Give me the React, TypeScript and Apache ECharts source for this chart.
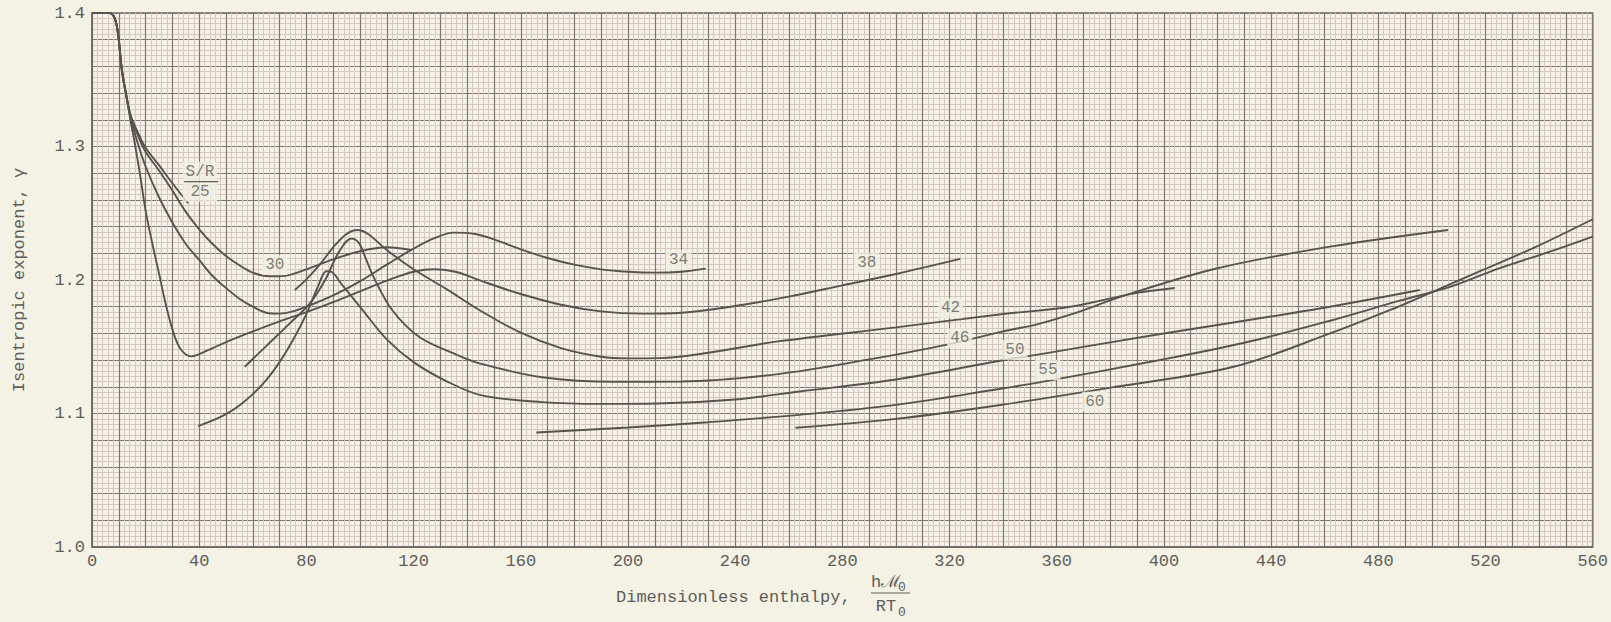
import React, { useEffect, useRef } from 'react';
import * as echarts from 'echarts';

// ---- data (x = dimensionless enthalpy, y = isentropic exponent) ----
const curveNames = ['25', '30', '34', '38', '42', '46', '50', '55', '60'];

const s25 = [[0, 1.4], [6.5, 1.4], [8.5, 1.396], [9.8, 1.383], [11.1, 1.358], [12.9, 1.337], [14.5, 1.323], [17, 1.311], [20, 1.299], [25, 1.286], [30, 1.2725], [35.9, 1.2575]];
const s30 = [[0, 1.4], [6.5, 1.4], [8.5, 1.396], [9.8, 1.383], [11.1, 1.358], [12.9, 1.337], [14.5, 1.322], [17, 1.309], [20, 1.296], [25, 1.282], [30, 1.267], [35, 1.251], [40, 1.238], [45, 1.227], [50, 1.218], [55, 1.211], [60, 1.2055], [65, 1.203], [70, 1.2028], [75, 1.2045], [80, 1.208], [90, 1.2155], [100, 1.2215], [110, 1.2245], [119, 1.2225]];
const s34 = [[0, 1.4], [6.5, 1.4], [8.5, 1.396], [9.8, 1.383], [11.1, 1.358], [12.9, 1.337], [14.5, 1.321], [17, 1.303], [20, 1.285], [25, 1.262], [30, 1.243], [35, 1.227], [40, 1.215], [45, 1.203], [50, 1.194], [55, 1.186], [60, 1.18], [65, 1.1755], [70, 1.1748], [75, 1.1765], [80, 1.18], [90, 1.1885], [100, 1.199], [110, 1.2115], [120, 1.2235], [128, 1.2315], [135, 1.2355], [143, 1.2345], [150, 1.2305], [160, 1.223], [170, 1.2165], [180, 1.2115], [190, 1.208], [200, 1.2062], [210, 1.2055], [220, 1.2062], [229, 1.2085]];
const s38 = [[0, 1.4], [6.5, 1.4], [8.5, 1.396], [9.8, 1.383], [11.1, 1.358], [12.9, 1.337], [14.5, 1.318], [16, 1.302], [18, 1.278], [20, 1.252], [22, 1.232], [25, 1.205], [27.5, 1.182], [30, 1.163], [32, 1.152], [34, 1.146], [37, 1.1428], [40, 1.1445], [45, 1.149], [50, 1.1535], [60, 1.1615], [70, 1.169], [80, 1.176], [90, 1.1835], [100, 1.1915], [110, 1.1995], [120, 1.2062], [128, 1.208], [136, 1.206], [145, 1.1995], [160, 1.1895], [175, 1.1815], [190, 1.1765], [205, 1.1748], [220, 1.1755], [240, 1.1805], [260, 1.1875], [280, 1.196], [300, 1.2045], [324, 1.2158]];
const s42 = [[75.7, 1.1925], [80, 1.2005], [85, 1.2115], [90, 1.2245], [95, 1.2345], [99, 1.2375], [103, 1.2345], [110, 1.2225], [120, 1.208], [132, 1.1935], [145, 1.177], [160, 1.1605], [175, 1.149], [190, 1.1425], [200, 1.1413], [212, 1.1415], [230, 1.1455], [256, 1.154], [300, 1.1645], [340, 1.1745], [365, 1.18], [389, 1.19], [404, 1.194]];
const s46 = [[57, 1.135], [65, 1.1505], [73.8, 1.1675], [81.3, 1.1825], [87, 1.2], [92, 1.2205], [96.8, 1.231], [99.5, 1.228], [102, 1.217], [105, 1.2025], [112, 1.1775], [122, 1.1575], [135, 1.145], [145, 1.1373], [168, 1.1272], [195, 1.1238], [220, 1.124], [256, 1.1295], [290, 1.1405], [320, 1.152], [340, 1.1615], [353, 1.167], [365, 1.174], [386, 1.1888], [420, 1.2088], [462, 1.225], [506, 1.2375]];
const s50 = [[39.6, 1.0906], [45, 1.0948], [50, 1.0995], [55, 1.106], [60, 1.1145], [65, 1.125], [70, 1.1385], [75, 1.155], [80, 1.1745], [84.5, 1.196], [87.5, 1.2065], [89.5, 1.206], [92.5, 1.1985], [101, 1.1775], [110, 1.1555], [120, 1.1385], [132, 1.1245], [145, 1.1138], [168, 1.1085], [190, 1.1072], [211, 1.1075], [240, 1.1105], [264, 1.1165], [300, 1.1255], [339, 1.1395], [354, 1.1445], [397, 1.159], [430, 1.1695], [462, 1.18], [495.5, 1.1925]];
const s55 = [[165.8, 1.0858], [200, 1.0895], [230, 1.0935], [264, 1.099], [300, 1.1065], [339, 1.1185], [354, 1.1235], [397, 1.1395], [430, 1.153], [462, 1.1695], [488, 1.1845], [507, 1.195], [525, 1.2087], [544, 1.2212], [560, 1.2325]];
const s60 = [[262.5, 1.0893], [300, 1.096], [339, 1.1064], [382, 1.12], [426, 1.135], [462, 1.16], [488, 1.1805], [499, 1.19], [519, 1.2075], [539, 1.225], [560, 1.2455]];

const curves = [s25, s30, s34, s38, s42, s46, s50, s55, s60];

// curve labels (S/R values) and where they sit
const labelText = ['S/R\n25', '30', '34', '38', '42', '46', '50', '55', '60'];
const labelX = [40.3, 68.2, 218.9, 289.1, 320.4, 323.8, 344.4, 356.7, 374.2];
const labelY = [1.2736, 1.2112, 1.215, 1.213, 1.1788, 1.1563, 1.1476, 1.1326, 1.1089];
const fractionBar = [[34.4, 1.2737], [47.1, 1.2737]];

const xTickLabels = [0, 40, 80, 120, 160, 200, 240, 280, 320, 360, 400, 440, 480, 520, 560];
const yTickLabels = ['1.0', '1.1', '1.2', '1.3', '1.4'];

const FONT = '"Liberation Mono", "DejaVu Sans Mono", monospace';
const TEXT = '#5f5c59';
const CURVE = '#57534f';
const PAPER = '#f3f2e4';

export default function App() {
  const ref = useRef<HTMLDivElement>(null);
  useEffect(() => {
    document.body.style.margin = '0';
    document.body.style.background = PAPER;
    const chart = echarts.init(ref.current as HTMLDivElement, undefined, { renderer: 'svg' });
    const series: any[] = curves.map((c, i) => ({
      name: 'S/R ' + curveNames[i],
      type: 'line',
      data: c,
      showSymbol: false,
      smooth: 0.35,
      lineStyle: { color: CURVE, width: 1.9 },
      z: 3,
    }));
    series.push({
      name: 'labels',
      type: 'scatter',
      symbolSize: 1,
      itemStyle: { color: 'rgba(0,0,0,0)' },
      data: labelText.map((t, i) => ({ name: t, value: [labelX[i], labelY[i]] })),
      label: {
        show: true,
        position: 'inside',
        formatter: '{b}',
        fontFamily: FONT,
        fontSize: 16,
        lineHeight: 20,
        color: TEXT,
        backgroundColor: '#f3f0e4',
        padding: [0, 3],
      },
      z: 4,
    });
    series.push({
      name: 'bar',
      type: 'line',
      data: fractionBar,
      showSymbol: false,
      lineStyle: { color: TEXT, width: 1.2 },
      z: 5,
    });
    const axisCommon = {
      axisLine: { show: true, lineStyle: { color: '#6d6660', width: 1.5 } },
      axisTick: { show: false },
      minorTick: { show: false, splitNumber: 5 },
      splitLine: { show: true, lineStyle: { color: '#7f7771', width: 1.2 } },
      minorSplitLine: { show: true, lineStyle: { color: '#d6c8be', width: 1 } },
    };
    chart.setOption({
      animation: false,
      backgroundColor: PAPER,
      grid: {
        left: 92, right: 17, top: 13, bottom: 75,
        show: true, backgroundColor: '#f6f2e9', borderColor: '#6d6660', borderWidth: 1.5,
      },
      xAxis: {
        type: 'value', min: 0, max: 560, interval: 10,
        ...axisCommon,
        axisLabel: {
          margin: 6, fontFamily: FONT, fontSize: 17, color: TEXT,
          formatter: (v: number) => (xTickLabels.includes(Math.round(v)) ? String(Math.round(v)) : ''),
        },
      },
      yAxis: {
        type: 'value', min: 1.0, max: 1.4, interval: 0.02,
        name: 'Isentropic exponent, γ', nameLocation: 'middle', nameRotate: 90, nameGap: 64,
        nameTextStyle: { fontFamily: FONT, fontSize: 17, color: TEXT },
        ...axisCommon,
        axisLabel: {
          margin: 7, fontFamily: FONT, fontSize: 17, color: TEXT,
          formatter: (v: number) => {
            const s = (Math.round(v * 100) / 100).toFixed(1);
            return Math.abs(v * 10 - Math.round(v * 10)) < 1e-6 && yTickLabels.includes(s) ? s : '';
          },
        },
      },
      graphic: [
        { type: 'text', x: 616, y: 597, style: { text: 'Dimensionless enthalpy,', font: '17px ' + FONT, fill: TEXT, textVerticalAlign: 'middle' } },
        { type: 'text', x: 886, y: 582, style: { text: 'hℳ', font: '17px ' + FONT, fill: TEXT, textAlign: 'center', textVerticalAlign: 'middle' } },
        { type: 'text', x: 902, y: 587, style: { text: '0', font: '13px ' + FONT, fill: TEXT, textAlign: 'center', textVerticalAlign: 'middle' } },
        { type: 'line', shape: { x1: 871, y1: 593, x2: 910, y2: 593 }, style: { stroke: TEXT, lineWidth: 1 } },
        { type: 'text', x: 886, y: 606, style: { text: 'RT', font: '17px ' + FONT, fill: TEXT, textAlign: 'center', textVerticalAlign: 'middle' } },
        { type: 'text', x: 902, y: 612, style: { text: '0', font: '13px ' + FONT, fill: TEXT, textAlign: 'center', textVerticalAlign: 'middle' } },
      ],
      series,
    });
    return () => chart.dispose();
  }, []);
  return <div ref={ref} style={{ width: 1611, height: 622 }} />;
}
